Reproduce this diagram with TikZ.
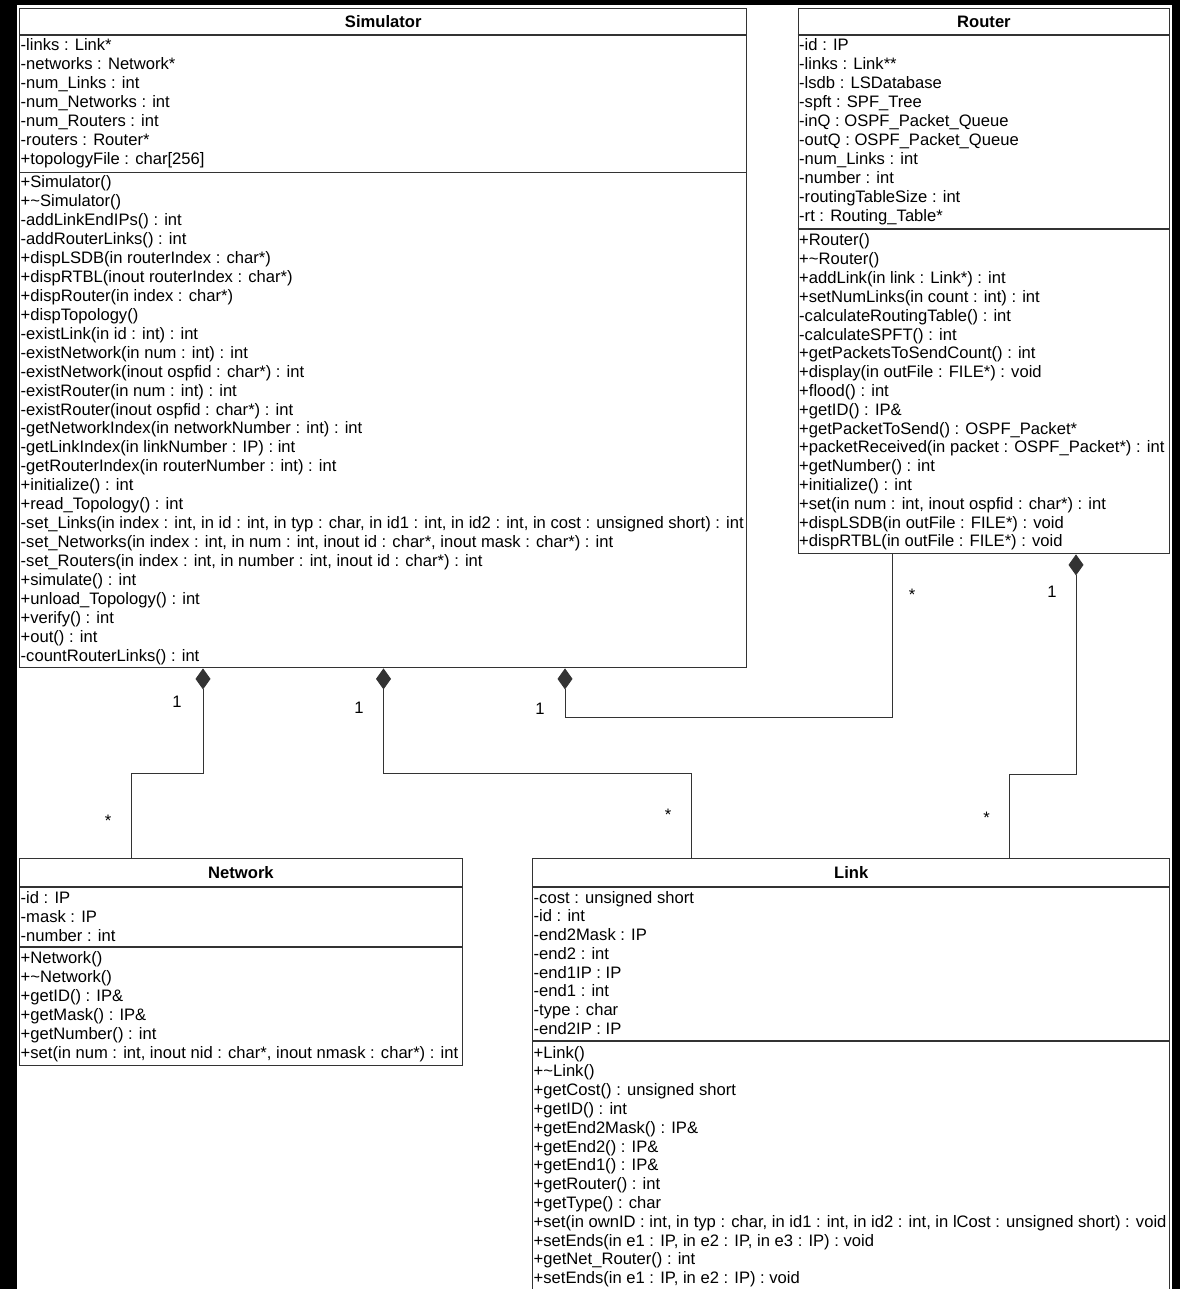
\documentclass[tikz,border=0pt]{standalone}
\usepackage{fontspec}
\setmainfont{Liberation Sans}
\usepackage{tikz}
\usetikzlibrary{positioning, arrows.meta}
\newcommand{\umlfont}{\fontsize{16.6}{18.9}\selectfont}
\tikzstyle{classbox}=[inner sep=0pt, draw=black!80, line width=1.4pt, anchor=north west]
\tikzstyle{classline}=[draw=black!80, line width=1.4pt]
\tikzstyle{member}=[inner sep=0pt, font=\umlfont, anchor=base west]
\tikzstyle{cname}=[inner sep=0pt, font=\umlfont\bfseries]
\tikzstyle{mult}=[inner sep=0pt, font=\umlfont]
\tikzstyle{comp}=[draw=black!80, line width=0.9pt, {Diamond[length=21pt,width=15pt]}-]
\newcommand{\members}[5]{%
  \foreach \entry [count=\k from 0] in {#5}
    \node[member] (#1\k) at (#2, #3+\k*#4) {\entry};
}

\begin{document}
\begin{tikzpicture}[x=1pt, y=-1pt]
\useasboundingbox (0,0) rectangle (1180,1289);
\clip (0,0) rectangle (1180,1289);
% the black frame
\fill[black] (0,0) rectangle (16.5,1289);
\fill[black] (0,0) rectangle (1180,5);
\fill[black] (1172,0) rectangle (1180,1289);
% the class boxes
\node[classbox, minimum width=727pt, minimum height=659pt] (sim) at (19,8) {};
\node[classbox, minimum width=371.5pt, minimum height=545pt] (rtr) at (797.5,8) {};
\node[classbox, minimum width=442.5pt, minimum height=207pt] (net) at (19,858) {};
\node[classbox, minimum width=637pt, minimum height=450pt] (link) at (532,858) {};
% the compartments
\draw[classline] (sim.west |- 0,35) -- (sim.east |- 0,35);
\draw[classline] (sim.west |- 0,172.5) -- (sim.east |- 0,172.5);
\draw[classline] (rtr.west |- 0,35) -- (rtr.east |- 0,35);
\draw[classline] (rtr.west |- 0,229) -- (rtr.east |- 0,229);
\draw[classline] (net.west |- 0,887) -- (net.east |- 0,887);
\draw[classline] (net.west |- 0,947) -- (net.east |- 0,947);
\draw[classline] (link.west |- 0,887) -- (link.east |- 0,887);
\draw[classline] (link.west |- 0,1041) -- (link.east |- 0,1041);
% the class names
\node[cname] (simname) at (sim.north |- 0,21.5) {Simulator};
\node[cname] (rtrname) at (rtr.north |- 0,21.5) {Router};
\node[cname] (netname) at (net.north |- 0,872.5) {Network};
\node[cname] (linkname) at (link.north |- 0,872.5) {Link};
% Simulator
\members{sa}{20.5}{51}{19}{-links : Link*, -networks : Network*, -num\_Links : int,
  -num\_Networks : int, -num\_Routers : int, -routers : Router*, +topologyFile : char[256]}
\members{sm}{20.5}{188}{18.92}{+Simulator(), +\textasciitilde Simulator(), -addLinkEndIPs() : int,
  -addRouterLinks() : int, +dispLSDB(in routerIndex : char*), +dispRTBL(inout routerIndex : char*),
  +dispRouter(in index : char*), +dispTopology(), -existLink(in id : int) : int,
  -existNetwork(in num : int) : int, -existNetwork(inout ospfid : char*) : int,
  -existRouter(in num : int) : int, -existRouter(inout ospfid : char*) : int,
  -getNetworkIndex(in networkNumber : int) : int, -getLinkIndex(in linkNumber : IP) : int,
  -getRouterIndex(in routerNumber : int) : int, +initialize() : int, +read\_Topology() : int,
  {-set\_Links(in index : int, in id : int, in typ : char, in id1 : int, in id2 : int, in cost : unsigned short) : int},
  {-set\_Networks(in index : int, in num : int, inout id : char*, inout mask : char*) : int},
  {-set\_Routers(in index : int, in number : int, inout id : char*) : int},
  +simulate() : int, +unload\_Topology() : int, +verify() : int, +out() : int, -countRouterLinks() : int}
% Router
\members{ra}{799}{51}{18.9}{-id : IP, -links : Link**, -lsdb : LSDatabase, -spft : SPF\_Tree,
  -inQ : OSPF\_Packet\_Queue, -outQ : OSPF\_Packet\_Queue, -num\_Links : int, -number : int,
  -routingTableSize : int, -rt : Routing\_Table*}
\members{rm}{799}{246}{18.8}{+Router(), +\textasciitilde Router(), +addLink(in link : Link*) : int,
  +setNumLinks(in count : int) : int, -calculateRoutingTable() : int, -calculateSPFT() : int,
  +getPacketsToSendCount() : int, +display(in outFile : FILE*) : void, +flood() : int,
  +getID() : IP\&, +getPacketToSend() : OSPF\_Packet*, +packetReceived(in packet : OSPF\_Packet*) : int,
  +getNumber() : int, +initialize() : int, {+set(in num : int, inout ospfid : char*) : int},
  +dispLSDB(in outFile : FILE*) : void, +dispRTBL(in outFile : FILE*) : void}
% Network
\members{na}{20.5}{903}{19}{-id : IP, -mask : IP, -number : int}
\members{nm}{20.5}{963}{19}{+Network(), +\textasciitilde Network(), +getID() : IP\&, +getMask() : IP\&,
  +getNumber() : int, {+set(in num : int, inout nid : char*, inout nmask : char*) : int}}
% Link
\members{la}{533.5}{903}{18.75}{-cost : unsigned short, -id : int, -end2Mask : IP, -end2 : int,
  -end1IP : IP, -end1 : int, -type : char, -end2IP : IP}
\members{lm}{533.5}{1058}{18.8}{+Link(), +\textasciitilde Link(), +getCost() : unsigned short,
  +getID() : int, +getEnd2Mask() : IP\&, +getEnd2() : IP\&, +getEnd1() : IP\&, +getRouter() : int,
  +getType() : char,
  {+set(in ownID : int, in typ : char, in id1 : int, in id2 : int, in lCost : unsigned short) : void},
  {+setEnds(in e1 : IP, in e2 : IP, in e3 : IP) : void}, +getNet\_Router() : int,
  {+setEnds(in e1 : IP, in e2 : IP) : void}}
% the compositions
\draw[comp] ([xshift=184pt]sim.south west) -- ++(0,105) -| ([xshift=112pt]net.north west);
\draw[comp] ([xshift=364.5pt]sim.south west) -- ++(0,105) -| ([xshift=159pt]link.north west);
\draw[comp] ([xshift=546pt]sim.south west) -- ++(0,49) -| ([xshift=94.5pt]rtr.south west);
\draw[comp] ([xshift=278.5pt]rtr.south west) -- ++(0,220) -| ([xshift=477.5pt]link.north west);
% the multiplicities
\node[mult] (m1) at (177,702) {1};
\node[mult] (m2) at (108,821) {*};
\node[mult] (m3) at (359,708) {1};
\node[mult] (m4) at (668,815) {*};
\node[mult] (m5) at (540,709) {1};
\node[mult] (m6) at (912,595) {*};
\node[mult] (m7) at (1052,592) {1};
\node[mult] (m8) at (986.5,818) {*};
\end{tikzpicture}
\end{document}
